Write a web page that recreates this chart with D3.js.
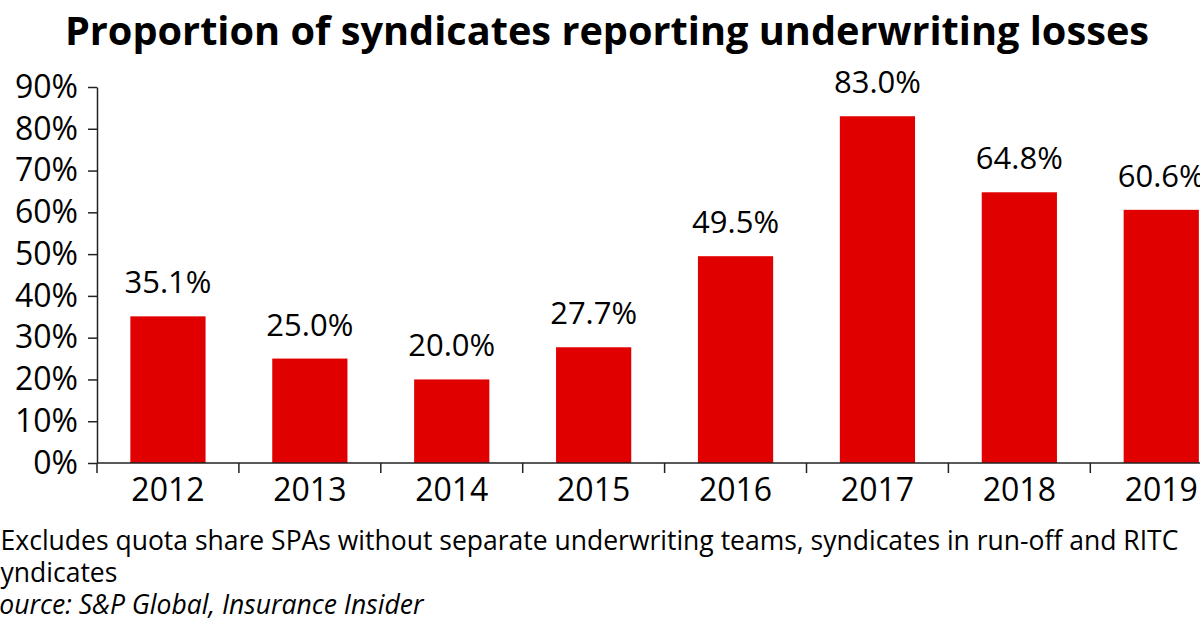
<!DOCTYPE html>
<html>
<head>
<meta charset="utf-8">
<script src="https://cdn.jsdelivr.net/npm/d3@7"></script>
<style>
  body { margin: 0; background: #fff; }
  svg, svg text { font-family: "Open Sans", sans-serif; }
</style>
</head>
<body>
<script>
// data
var years = ["2012", "2013", "2014", "2015", "2016", "2017", "2018", "2019"];
var lossShare = [35.1, 25.0, 20.0, 27.7, 49.5, 83.0, 64.8, 60.6];
var yTicks = [0, 10, 20, 30, 40, 50, 60, 70, 80, 90];
var notes = [
  "*Excludes quota share SPAs without separate underwriting teams, syndicates in run-off and RITC",
  "Syndicates"
];
var source = "Source: S&P Global, Insurance Insider";

var svgWidth = 1200, svgHeight = 630;
var plotLeft = 97, plotBottom = 463, plotTop = 87;

var svg = d3.select("body").append("svg")
  .attr("width", svgWidth)
  .attr("height", svgHeight);

svg.append("text")
  .attr("x", 607)
  .attr("y", 45)
  .attr("text-anchor", "middle")
  .style("font-weight", "bold")
  .style("font-size", "39.7px")
  .attr("fill", "#000")
  .text("Proportion of syndicates reporting underwriting losses");

var x = d3.scaleBand()
  .domain(years)
  .range([plotLeft, plotLeft + 8 * 141.9])
  .paddingInner(0.47)
  .paddingOuter(0.235);

var y = d3.scaleLinear()
  .domain([0, 90])
  .range([plotBottom, plotTop]);

// bars
svg.selectAll("rect.bar")
  .data(years)
  .enter()
  .append("rect")
  .attr("class", "bar")
  .attr("x", d => x(d))
  .attr("width", x.bandwidth())
  .attr("y", (d, i) => y(lossShare[i]))
  .attr("height", (d, i) => plotBottom - y(lossShare[i]))
  .attr("fill", "#e00000");

// value labels
svg.selectAll("text.val")
  .data(years)
  .enter()
  .append("text")
  .attr("class", "val")
  .attr("x", d => x(d) + x.bandwidth() / 2)
  .attr("y", (d, i) => y(lossShare[i]) - 23)
  .attr("text-anchor", "middle")
  .style("font-size", "31px")
  .attr("fill", "#000")
  .text((d, i) => lossShare[i].toFixed(1) + "%");

// y axis
var yAxis = d3.axisLeft(y)
  .tickValues(yTicks)
  .tickSize(9)
  .tickSizeOuter(0)
  .tickPadding(10)
  .tickFormat(d => d + "%");

var yG = svg.append("g")
  .attr("transform", `translate(${plotLeft},0)`)
  .call(yAxis)
  .attr("font-family", null);
yG.selectAll("text").style("font-size", "32px").attr("fill", "#000");
yG.selectAll("line, path").attr("stroke", "#222").attr("stroke-width", 1.5);

// x axis: labels centred, ticks on category boundaries
var xAxis = d3.axisBottom(x).tickSize(0).tickPadding(15);
var xG = svg.append("g")
  .attr("transform", `translate(0,${plotBottom})`)
  .call(xAxis)
  .attr("font-family", null);
xG.select("path").remove();
xG.selectAll("text").style("font-size", "32px").attr("fill", "#000");

var step = x.step();
var edges = years.map(d => x(d) - step * 0.235);
svg.append("line")
  .attr("x1", plotLeft).attr("x2", svgWidth)
  .attr("y1", plotBottom).attr("y2", plotBottom)
  .attr("stroke", "#222").attr("stroke-width", 1.5);
svg.selectAll("line.edge")
  .data(edges)
  .enter()
  .append("line")
  .attr("class", "edge")
  .attr("x1", d => d).attr("x2", d => d)
  .attr("y1", plotBottom).attr("y2", plotBottom + 10)
  .attr("stroke", "#222").attr("stroke-width", 1.5);

// footnotes
svg.selectAll("text.note")
  .data(notes)
  .enter()
  .append("text")
  .attr("class", "note")
  .attr("x", -14)
  .attr("y", (d, i) => 550 + i * 32)
  .style("font-size", "26.5px")
  .attr("fill", "#000")
  .text(d => d);

svg.append("text")
  .attr("x", -14)
  .attr("y", 614)
  .style("font-size", "26.5px")
  .style("font-style", "italic")
  .attr("fill", "#000")
  .text(source);
</script>
</body>
</html>
